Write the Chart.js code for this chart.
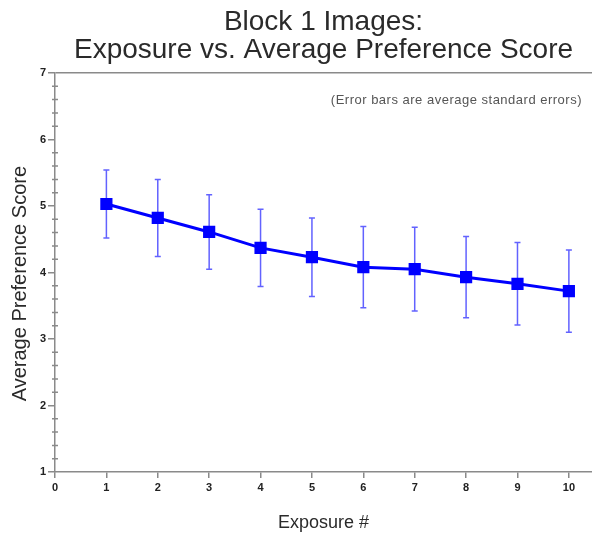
<html><head>
<meta charset="utf-8">
<title>Block 1 Images</title>
<script src="https://cdn.jsdelivr.net/npm/chart.js"></script>
<style>
body { margin: 0; background: #fff; }
canvas { display: block; }
</style>
</head>
<body>
<canvas id="block1" width="592" height="533"></canvas>
<script>
// exposure number vs average preference score, block 1
var exposures = [1, 2, 3, 4, 5, 6, 7, 8, 9, 10];
var scores = [5.03, 4.82, 4.61, 4.37, 4.23, 4.08, 4.05, 3.93, 3.83, 3.72];
var stdErrors = [0.51, 0.58, 0.56, 0.58, 0.59, 0.61, 0.63, 0.61, 0.62, 0.62];
var xTicks = [0, 1, 2, 3, 4, 5, 6, 7, 8, 9, 10];
var yTicks = [1, 2, 3, 4, 5, 6, 7];
var note = '(Error bars are average standard errors)';

var axisGrey = '#8a8a8a';
var textGrey = '#2a2a2a';
var font = '"Liberation Sans", Arial, sans-serif';

var points = [];
for (var i = 0; i < exposures.length; i++) {
    points.push({x: exposures[i], y: scores[i]});
}

// whiskers with small caps, one per point
var errorBars = {
    id: 'errorBars',
    beforeDatasetsDraw: function(chart) {
        var ctx = chart.ctx;
        var xs = chart.scales.x, ys = chart.scales.y;
        ctx.save();
        ctx.strokeStyle = 'rgba(70, 70, 255, 0.85)';
        ctx.lineWidth = 1.5;
        for (var i = 0; i < exposures.length; i++) {
            var px = xs.getPixelForValue(exposures[i]);
            var top = ys.getPixelForValue(scores[i] + stdErrors[i]);
            var bot = ys.getPixelForValue(scores[i] - stdErrors[i]);
            ctx.beginPath();
            ctx.moveTo(px, top); ctx.lineTo(px, bot);
            ctx.moveTo(px - 3, top); ctx.lineTo(px + 3, top);
            ctx.moveTo(px - 3, bot); ctx.lineTo(px + 3, bot);
            ctx.stroke();
        }
        ctx.restore();
    }
};

// minor ticks on the score axis and the note in the corner
var decorations = {
    id: 'decorations',
    afterDraw: function(chart) {
        var ctx = chart.ctx;
        var ys = chart.scales.y;
        var area = chart.chartArea;
        ctx.save();
        ctx.strokeStyle = axisGrey;
        ctx.lineWidth = 1.5;
        ctx.beginPath();
        for (var v = 1; v < 7; v++) {
            for (var k = 1; k < 5; k++) {
                var py = ys.getPixelForValue(v + k * 0.2);
                ctx.moveTo(area.left - 3, py);
                ctx.lineTo(area.left + 3, py);
            }
        }
        ctx.stroke();
        ctx.fillStyle = '#555';
        ctx.font = '13px ' + font;
        ctx.letterSpacing = '0.5px';
        ctx.textAlign = 'right';
        ctx.textBaseline = 'middle';
        ctx.fillText(note, area.right - 10, 100);
        ctx.restore();
    }
};

new Chart(document.getElementById('block1'), {
    type: 'line',
    data: {
        datasets: [{
            data: points,
            borderColor: '#0000ff',
            backgroundColor: '#0000ff',
            borderWidth: 3,
            pointStyle: 'rect',
            pointRadius: 6.5,
            pointHoverRadius: 6.5,
            tension: 0
        }]
    },
    options: {
        responsive: false,
        animation: false,
        devicePixelRatio: 1,
        layout: { padding: 0, autoPadding: false },
        plugins: {
            legend: { display: false },
            tooltip: { enabled: false },
            title: {
                display: true,
                fullSize: false,
                text: ['Block 1 Images:', 'Exposure vs. Average Preference Score'],
                color: textGrey,
                font: { family: font, size: 28, weight: 'normal', lineHeight: 1.0 },
                padding: { top: 8, bottom: 9 }
            }
        },
        scales: {
            x: {
                type: 'linear',
                min: 0,
                max: 10.45,
                afterBuildTicks: function(scale) {
                    scale.ticks = xTicks.map(function(v) { return {value: v}; });
                },
                afterFit: function(scale) {
                    scale.height = 61;
                    scale.paddingLeft = 0;
                    scale.paddingRight = 0;
                },
                border: { color: axisGrey, width: 1.5 },
                grid: { drawOnChartArea: false, color: axisGrey, tickLength: 6, lineWidth: 1.5 },
                ticks: {
                    color: '#222',
                    padding: 3,
                    maxRotation: 0,
                    font: { family: font, size: 11, weight: 'bold' }
                },
                title: {
                    display: true,
                    text: 'Exposure #',
                    color: textGrey,
                    font: { family: font, size: 18 },
                    padding: { top: 11, bottom: -1 }
                }
            },
            y: {
                min: 1,
                max: 7,
                afterBuildTicks: function(scale) {
                    scale.ticks = yTicks.map(function(v) { return {value: v}; });
                },
                afterFit: function(scale) {
                    scale.width = 55;
                    scale.paddingTop = 0;
                    scale.paddingBottom = 0;
                },
                border: { color: axisGrey, width: 1.5 },
                grid: {
                    color: function(c) { return c.tick && c.tick.value === 7 ? axisGrey : 'rgba(0,0,0,0)'; },
                    tickColor: axisGrey,
                    tickLength: 7,
                    lineWidth: 1.5
                },
                ticks: {
                    color: '#222',
                    padding: 2,
                    font: { family: font, size: 11, weight: 'bold' }
                },
                title: {
                    display: true,
                    // trailing spaces push the label a little below centre
                    text: 'Average Preference Score    ',
                    color: textGrey,
                    font: { family: font, size: 20 },
                    padding: { bottom: 0, top: 8 }
                }
            }
        }
    },
    plugins: [errorBars, decorations]
});
</script>
</body></html>
